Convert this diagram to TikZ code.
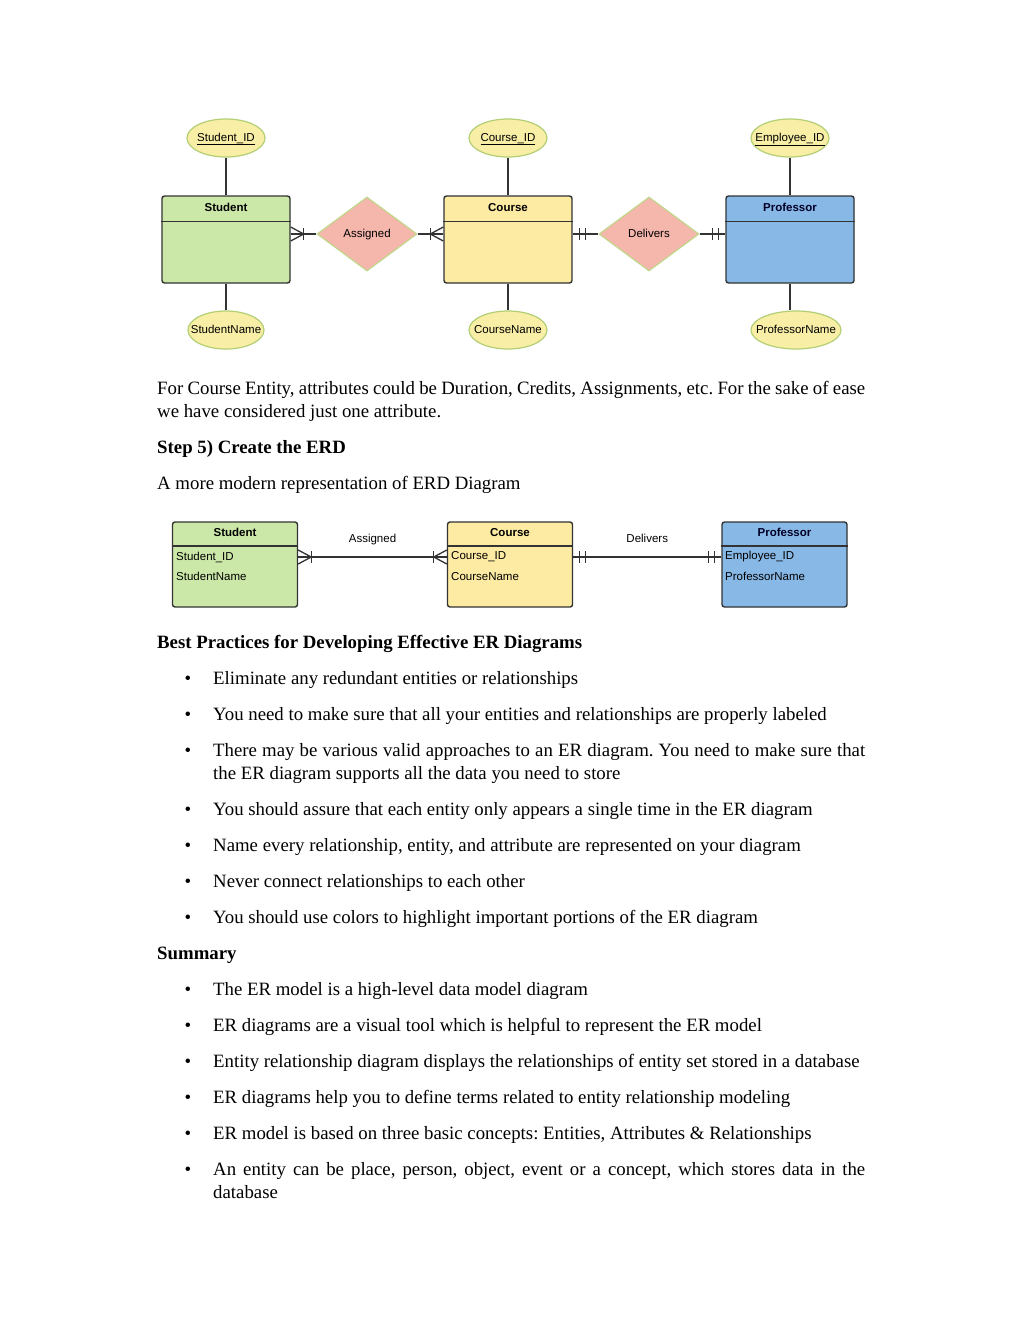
\documentclass[tikz,border=0pt]{standalone}
\usepackage{fontspec}
\setmainfont{Liberation Serif}
\setsansfont{Liberation Sans}
\usepackage{xcolor}
\usetikzlibrary{shapes.geometric}

\definecolor{stufill}{HTML}{CCE8A9}
\definecolor{crsfill}{HTML}{FDEAA3}
\definecolor{proffill}{HTML}{88B8E6}
\definecolor{relfill}{HTML}{F5B6AC}
\definecolor{reldraw}{HTML}{C2D78C}
\definecolor{attrfill}{HTML}{F8EEA6}
\definecolor{attrdraw}{HTML}{B3CF74}
\definecolor{edge}{HTML}{333333}

% crow's foot (many) and double bar (one and only one) at an entity edge
% #1 = point on the edge, #2 = 1 when the line leaves to the right, -1 to the left
\newcommand{\crowmark}[2]{%
  \draw[link] ([yshift=7pt]#1) -- ([xshift=#2*13pt]#1) -- ([yshift=-7pt]#1);
  \draw[link] ([xshift=#2*13pt,yshift=6pt]#1) -- ([xshift=#2*13pt,yshift=-6pt]#1);}
\newcommand{\onemark}[2]{%
  \draw[link] ([xshift=#2*6.5pt,yshift=6pt]#1) -- ([xshift=#2*6.5pt,yshift=-6pt]#1);
  \draw[link] ([xshift=#2*12.5pt,yshift=6pt]#1) -- ([xshift=#2*12.5pt,yshift=-6pt]#1);}

\begin{document}
\frenchspacing
\begin{tikzpicture}[x=1pt, y=-1pt,
  dfont/.style={font=\sffamily\fontsize{11.5}{13}\selectfont},
  ent/.style={draw=edge, line width=1.4pt, rounded corners=2.5pt, minimum width=128, minimum height=87},
  ent2/.style={ent, minimum width=125, minimum height=85},
  title/.style={font=\sffamily\bfseries\fontsize{11.5}{13}\selectfont, inner sep=0},
  attr/.style={ellipse, draw=attrdraw, fill=attrfill, line width=1.2pt, minimum width=78, minimum height=38, inner sep=0},
  atext/.style={inner sep=0, text height=8.5pt, text depth=2.5pt, dfont},
  rel/.style={diamond, draw=reldraw, fill=relfill, line width=1.2pt, minimum width=100, minimum height=74, inner sep=0, text height=8.5pt, text depth=2.5pt, dfont},
  field/.style={anchor=west, inner sep=0, dfont},
  lbl/.style={inner sep=0, text height=8.5pt, text depth=2.5pt, dfont},
  link/.style={draw=edge, line width=1.3pt},
  body/.style={anchor=base west, inner sep=0, font=\fontsize{18.8}{23}\selectfont},
  head/.style={body, font=\bfseries\fontsize{18.8}{23}\selectfont},
  bul/.style={anchor=base, inner sep=0, font=\fontsize{18.8}{23}\selectfont}]
\useasboundingbox[fill=white] (0,0) rectangle (1024,1325);

% ---- classic ER diagram ----
\node[ent, fill=stufill] (stu) at (226,239.5) {};
\node[ent, fill=crsfill] (crs) at (508,239.5) {};
\node[ent, fill=proffill] (prof) at (790,239.5) {};
\draw[link, line width=1.4pt] ([yshift=-26pt]stu.north west) -- ([yshift=-26pt]stu.north east);
\draw[link, line width=1.4pt] ([yshift=-26pt]crs.north west) -- ([yshift=-26pt]crs.north east);
\draw[link, line width=1.4pt] ([yshift=-26pt]prof.north west) -- ([yshift=-26pt]prof.north east);
\node[title] (stuT) at ([yshift=-12pt]stu.north) {Student};
\node[title] (crsT) at ([yshift=-12pt]crs.north) {Course};
\node[title, text=black!85!blue] (profT) at ([yshift=-12pt]prof.north) {Professor};

\node[rel] (asg) at (367,234) {Assigned};
\node[rel] (dlv) at (649,234) {Delivers};

\node[attr, label={[atext]center:\underline{Student\_ID}}] (sid) at (226,138) {};
\node[attr, label={[atext]center:\underline{Course\_ID}}] (cid) at (508,138) {};
\node[attr, label={[atext]center:\underline{Employee\_ID}}] (eid) at (790,138) {};
\node[attr, minimum width=76, label={[atext]center:StudentName}] (sname) at (226,330) {};
\node[attr, label={[atext]center:CourseName}] (cname) at (508,330) {};
\node[attr, minimum width=90, label={[atext]center:ProfessorName}] (pname) at (796,330) {};

\draw[link] (sid) -- (stu);
\draw[link] (cid) -- (crs);
\draw[link] (eid) -- (prof);
\draw[link] (stu) -- (sname);
\draw[link] (crs) -- (cname);
\draw[link] (prof.south) -- (prof.south |- pname.north);

\draw[link] (stu.east |- asg.west) coordinate (a1) -- (asg.west);
\draw[link] (asg.east) -- (crs.west |- asg.east) coordinate (a2);
\draw[link] (crs.east |- dlv.west) coordinate (a3) -- (dlv.west);
\draw[link] (dlv.east) -- (prof.west |- dlv.east) coordinate (a4);
\crowmark{a1}{1}
\crowmark{a2}{-1}
\onemark{a3}{1}
\onemark{a4}{-1}

% ---- modern ER diagram ----
\node[ent2, fill=stufill] (stu2) at (235,564.5) {};
\node[ent2, fill=crsfill] (crs2) at (510,564.5) {};
\node[ent2, fill=proffill] (prof2) at (784.5,564.5) {};
\draw[link, line width=1.4pt] ([yshift=-24.5pt]stu2.north west) -- ([yshift=-24.5pt]stu2.north east);
\draw[link, line width=1.4pt] ([yshift=-24.5pt]crs2.north west) -- ([yshift=-24.5pt]crs2.north east);
\draw[link, line width=1.4pt] ([yshift=-24.5pt]prof2.north west) -- ([yshift=-24.5pt]prof2.north east);
\node[title] (stu2T) at ([yshift=-11pt]stu2.north) {Student};
\node[title] (crs2T) at ([yshift=-11pt]crs2.north) {Course};
\node[title, text=black!85!blue] (prof2T) at ([yshift=-11pt]prof2.north) {Professor};

\node[field] (stuA) at (176,557) {Student\_ID};
\node[field] (stuB) at (176,576.5) {StudentName};
\node[field] (crsA) at (451,557) {Course\_ID};
\node[field] (crsB) at (451,576.5) {CourseName};
\node[field] (profA) at (725,557) {Employee\_ID};
\node[field] (profB) at (725,576.5) {ProfessorName};

\draw[link] (stu2.east |- stuA.west) coordinate (m1) -- node[lbl, above=11pt] (asgL) {Assigned} (crs2.west |- stuA.west) coordinate (m2);
\draw[link] (crs2.east |- crsA.west) coordinate (m3) -- node[lbl, above=11pt] (dlvL) {Delivers} (prof2.west |- crsA.west) coordinate (m4);
\crowmark{m1}{1}
\crowmark{m2}{-1}
\onemark{m3}{1}
\onemark{m4}{-1}

% ---- text ----
\node[body] (intro1) at (157,394) {\makebox[708pt][s]{For Course Entity, attributes could be Duration, Credits, Assignments, etc. For the sake of ease}};
\node[body] (intro2) at (157,417) {we have considered just one attribute.};
\node[head] (step) at (157,453) {Step 5) Create the ERD};
\node[body] (modern) at (157,489) {A more modern representation of ERD Diagram};
\node[head] (bestHd) at (157,648) {Best Practices for Developing Effective ER Diagrams};

\node[bul] (d1) at (188,684) {\textbullet};
\node[body] (bp1) at (213,684) {Eliminate any redundant entities or relationships};
\node[bul] (d2) at (188,720) {\textbullet};
\node[body] (bp2) at (213,720) {You need to make sure that all your entities and relationships are properly labeled};
\node[bul] (d3) at (188,756) {\textbullet};
\node[body] (bp3) at (213,756) {\makebox[652pt][s]{There may be various valid approaches to an ER diagram. You need to make sure that}};
\node[body] (bp3b) at (213,779) {the ER diagram supports all the data you need to store};
\node[bul] (d4) at (188,815) {\textbullet};
\node[body] (bp4) at (213,815) {You should assure that each entity only appears a single time in the ER diagram};
\node[bul] (d5) at (188,851) {\textbullet};
\node[body] (bp5) at (213,851) {Name every relationship, entity, and attribute are represented on your diagram};
\node[bul] (d6) at (188,887) {\textbullet};
\node[body] (bp6) at (213,887) {Never connect relationships to each other};
\node[bul] (d7) at (188,923) {\textbullet};
\node[body] (bp7) at (213,923) {You should use colors to highlight important portions of the ER diagram};

\node[head] (sumHd) at (157,959) {Summary};
\node[bul] (s1) at (188,995) {\textbullet};
\node[body] (sm1) at (213,995) {The ER model is a high-level data model diagram};
\node[bul] (s2) at (188,1031) {\textbullet};
\node[body] (sm2) at (213,1031) {ER diagrams are a visual tool which is helpful to represent the ER model};
\node[bul] (s3) at (188,1067) {\textbullet};
\node[body] (sm3) at (213,1067) {Entity relationship diagram displays the relationships of entity set stored in a database};
\node[bul] (s4) at (188,1103) {\textbullet};
\node[body] (sm4) at (213,1103) {ER diagrams help you to define terms related to entity relationship modeling};
\node[bul] (s5) at (188,1139) {\textbullet};
\node[body] (sm5) at (213,1139) {ER model is based on three basic concepts: Entities, Attributes \& Relationships};
\node[bul] (s6) at (188,1175) {\textbullet};
\node[body] (sm6) at (213,1175) {\makebox[652pt][s]{An entity can be place, person, object, event or a concept, which stores data in the}};
\node[body] (sm6b) at (213,1198) {database};
\end{tikzpicture}
\end{document}
